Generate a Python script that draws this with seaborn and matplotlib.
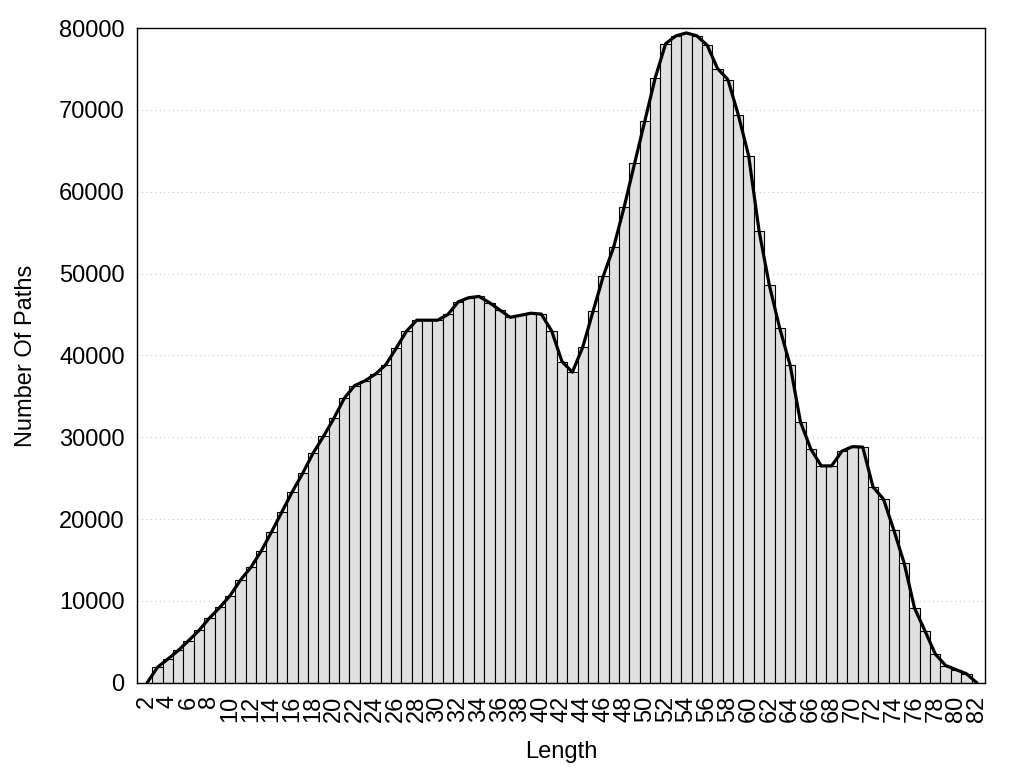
import numpy as np
import pandas as pd
import matplotlib
matplotlib.use("Agg")
import matplotlib.pyplot as plt
import seaborn as sns

# path lengths 2..82 and how many paths have each length
lengths = list(range(2, 83))
counts = [
    0, 1900, 2900, 3950, 5150, 6400, 7900, 9200, 10650,             # 2-10
    12550, 14100, 16100, 18450, 20900, 23350, 25600, 28050, 30100, 32300,  # 11-20
    34750, 36300, 36900, 37700, 38850, 40850, 42950, 44300, 44300, 44300,  # 21-30
    45000, 46550, 47050, 47200, 46450, 45550, 44650, 44900, 45150, 45050,  # 31-40
    43000, 39250, 37950, 41000, 45400, 49750, 53300, 58150, 63450, 68700,  # 41-50
    73950, 78100, 79050, 79400, 79050, 77900, 75050, 73700, 69400, 64400,  # 51-60
    55250, 48550, 43300, 38800, 31850, 28550, 26500, 26500, 28300, 28850,  # 61-70
    28800, 23900, 22450, 18650, 14600, 9100, 6350, 3500, 2100, 1600,       # 71-80
    1100, 0,                                                               # 81-82
]
xtick_labels = [str(v) for v in range(2, 83, 2)]
ytick_values = list(range(0, 80001, 10000))

df = pd.DataFrame({"Length": lengths, "Paths": counts})

sns.set_style("white")
plt.rcParams["font.family"] = ["Liberation Sans", "DejaVu Sans"]
plt.rcParams["text.color"] = "black"
plt.rcParams["axes.labelcolor"] = "black"
plt.rcParams["xtick.color"] = "black"
plt.rcParams["ytick.color"] = "black"

fig = plt.figure(figsize=(10.24, 7.68), dpi=100)
ax = fig.add_axes([0.134, 0.111, 0.828, 0.8525])

# grid behind the bars
for v in ytick_values[1:-1]:
    ax.axhline(v, color="#c8c8c8", linestyle=(0, (1, 3)), linewidth=0.8, zorder=0)

sns.barplot(data=df, x="Length", y="Paths", native_scale=True, width=1,
            color="#e0e0e0", saturation=1, edgecolor="black", linewidth=0.8,
            ax=ax, zorder=2)
sns.lineplot(data=df, x="Length", y="Paths", color="black", linewidth=2.3,
             ax=ax, zorder=3)

ax.set_xlim(1.04, 82.8)
ax.set_ylim(0, 80000)
ax.set_xticks(range(2, 83, 2))
ax.set_xticklabels(xtick_labels, rotation=90)
ax.set_yticks(ytick_values)
ax.set_yticklabels([str(v) for v in ytick_values])
ax.tick_params(axis="y", direction="in", length=7, width=0.8, pad=9,
               labelsize=17, right=False)
ax.tick_params(axis="x", direction="in", length=0, pad=9, labelsize=17)

ax.set_xlabel("Length", fontsize=17, labelpad=14)
ax.set_ylabel("Number Of Paths", fontsize=17, labelpad=16)

for s in ax.spines.values():
    s.set_visible(True)
    s.set_color("black")
    s.set_linewidth(1.0)

fig.savefig("out.png", dpi=100)
